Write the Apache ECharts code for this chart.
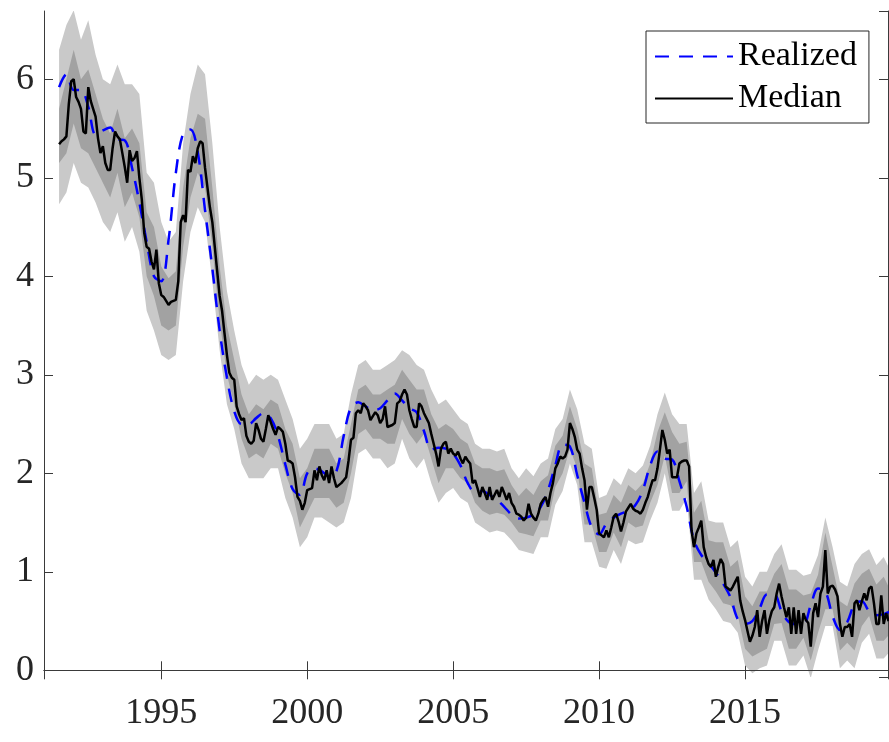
<!DOCTYPE html>
<html><head><meta charset="utf-8">
<script src="https://cdn.jsdelivr.net/npm/echarts@6/dist/echarts.min.js"></script>
<style>html,body{margin:0;padding:0;background:#fff}#c{width:889px;height:742px}</style>
</head><body><div id="c"></div>
<script>
// Monthly median, starting July 1991 (one row per year)
const medianStart = 1991.5;
const medianValues = [
  5.34, 5.37, 5.39, 5.42, 5.75, 5.98,
  6.00, 5.82, 5.77, 5.70, 5.47, 5.45, 5.92, 5.78, 5.70, 5.62, 5.40, 5.25,
  5.32, 5.15, 5.08, 5.08, 5.30, 5.47, 5.42, 5.39, 5.25, 5.11, 4.95, 5.28,
  5.17, 5.20, 5.27, 5.00, 4.78, 4.44, 4.30, 4.28, 4.15, 4.07, 4.27, 3.93,
  3.81, 3.79, 3.75, 3.71, 3.74, 3.75, 3.76, 3.95, 4.55, 4.62, 4.55, 5.08,
  5.06, 5.22, 5.15, 5.30, 5.37, 5.35, 5.10, 4.90, 4.70, 4.55, 4.30, 4.05,
  3.80, 3.65, 3.42, 3.20, 3.02, 2.97, 2.95, 2.68, 2.60, 2.54, 2.56, 2.38,
  2.32, 2.30, 2.33, 2.51, 2.44, 2.35, 2.32, 2.45, 2.59, 2.52, 2.45, 2.39,
  2.47, 2.45, 2.42, 2.30, 2.13, 2.12, 2.10, 1.96, 1.76, 1.72, 1.63, 1.70,
  1.83, 1.84, 1.85, 2.03, 1.93, 2.07, 1.98, 1.93, 2.03, 1.90, 2.07, 1.95,
  1.86, 1.88, 1.90, 1.93, 1.96, 2.13, 2.34, 2.36, 2.61, 2.64, 2.61, 2.71,
  2.68, 2.64, 2.54, 2.58, 2.62, 2.59, 2.51, 2.55, 2.68, 2.47, 2.48, 2.49,
  2.51, 2.71, 2.73, 2.80, 2.85, 2.80, 2.64, 2.55, 2.47, 2.47, 2.71, 2.68,
  2.61, 2.56, 2.51, 2.40, 2.30, 2.20, 2.07, 2.25, 2.30, 2.32, 2.20, 2.25,
  2.20, 2.18, 2.22, 2.15, 2.10, 2.17, 2.13, 2.10, 1.90, 1.93, 1.85, 1.76,
  1.86, 1.80, 1.73, 1.86, 1.73, 1.78, 1.83, 1.76, 1.86, 1.80, 1.73, 1.80,
  1.70, 1.66, 1.59, 1.58, 1.56, 1.52, 1.55, 1.69, 1.59, 1.55, 1.52, 1.59,
  1.69, 1.73, 1.76, 1.66, 1.80, 1.90, 2.05, 2.10, 2.17, 2.15, 2.17, 2.24,
  2.51, 2.45, 2.37, 2.24, 2.20, 2.05, 1.93, 1.63, 1.86, 1.86, 1.75, 1.63,
  1.39, 1.37, 1.35, 1.42, 1.35, 1.45, 1.56, 1.59, 1.51, 1.41, 1.50, 1.61,
  1.65, 1.69, 1.64, 1.62, 1.61, 1.59, 1.63, 1.70, 1.76, 1.85, 1.93, 1.93,
  2.05, 2.24, 2.44, 2.34, 2.20, 2.24, 1.96, 1.96, 1.96, 2.10, 2.12, 2.13,
  2.13, 2.07, 1.42, 1.25, 1.39, 1.45, 1.52, 1.25, 1.15, 1.08, 1.05, 1.12,
  0.95, 1.05, 1.13, 1.08, 0.85, 0.83, 0.81, 0.85, 0.90, 0.95, 0.71, 0.60,
  0.51, 0.40, 0.29, 0.35, 0.44, 0.61, 0.34, 0.50, 0.61, 0.37, 0.51, 0.60,
  0.64, 0.78, 0.88, 0.75, 0.64, 0.54, 0.64, 0.37, 0.64, 0.37, 0.61, 0.37,
  0.58, 0.51, 0.48, 0.24, 0.58, 0.68, 0.54, 0.78, 0.85, 1.22, 0.78, 0.85,
  0.86, 0.82, 0.75, 0.47, 0.34, 0.44, 0.44, 0.47, 0.34, 0.68, 0.71, 0.61,
  0.70, 0.78, 0.71, 0.83, 0.85, 0.68, 0.47, 0.47, 0.76, 0.47, 0.58, 0.50
];

// Quarterly series, starting 1991.5 (Q3 1991)
const quarterStart = 1991.5;
const realizedValues = [
  5.92, 6.05,
  5.89, 5.89, 5.72, 5.44,  5.48, 5.51, 5.39, 5.38,  5.10, 4.75, 4.35, 4.00,
  3.95, 4.37, 5.05, 5.45,  5.49, 5.26, 4.67, 4.08,  3.45, 2.97, 2.63, 2.50,
  2.50, 2.56, 2.61, 2.56,  2.38, 2.09, 1.84, 1.78,  2.00, 2.05, 2.02, 1.97,
  2.02, 2.38, 2.67, 2.72,  2.68, 2.64, 2.66, 2.74,  2.81, 2.74, 2.66, 2.62,
  2.43, 2.24, 2.26, 2.25,  2.20, 2.08, 1.90, 1.81,  1.82, 1.78, 1.73, 1.66,
  1.58, 1.54, 1.55, 1.58,  1.66, 1.83, 2.08, 2.29,  2.27, 1.98, 1.70, 1.45,
  1.38, 1.49, 1.55, 1.59,  1.62, 1.68, 1.83, 2.08,  2.22, 2.15, 2.14, 1.92,
  1.66, 1.32, 1.17, 1.09,  0.99, 0.88, 0.74, 0.52,  0.47, 0.50, 0.63, 0.77,
  0.77, 0.60, 0.49, 0.47,  0.47, 0.66, 0.83, 0.80,  0.55, 0.41, 0.49, 0.67,
  0.70, 0.60, 0.56, 0.57,  0.60
];
const outerLo = [
  4.73, 4.85,
  5.15, 4.95, 4.90, 4.75,  4.55, 4.45, 4.65, 4.35,  4.50, 4.25, 3.65, 3.45,
  3.20, 3.15, 3.20, 3.95,  4.45, 4.70, 4.55, 3.95,  3.25, 2.70, 2.45, 2.10,
  1.95, 1.95, 1.95, 2.05,  2.05, 1.75, 1.55, 1.25,  1.35, 1.55, 1.55, 1.50,
  1.45, 1.50, 1.75, 2.20,  2.25, 2.15, 2.15, 2.05,  2.10, 2.35, 2.15, 2.05,
  2.15, 1.90, 1.70, 1.80,  1.85, 1.75, 1.70, 1.50,  1.45, 1.40, 1.42, 1.40,
  1.32, 1.22, 1.20, 1.18,  1.35, 1.35, 1.68, 1.82,  2.10, 1.88, 1.30, 1.30,
  1.05, 1.03, 1.22, 1.08,  1.32, 1.28, 1.30, 1.52,  1.70, 2.00, 1.62, 1.62,
  1.75, 0.92, 0.92, 0.72,  0.62, 0.50, 0.48, 0.38,  0.05, -0.03, 0.02, 0.05,
  0.30, 0.30, 0.05, 0.05,  0.15, -0.08, 0.20, 0.45,  0.45, 0.02, 0.10, 0.02,
  0.28, 0.37, 0.12, 0.12,  0.20
];
const innerLo = [
  5.15, 5.25,
  5.55, 5.30, 5.25, 5.10,  4.95, 4.80, 5.05, 4.70,  4.85, 4.60, 4.00, 3.80,
  3.50, 3.45, 3.50, 4.30,  4.80, 5.05, 4.90, 4.30,  3.55, 3.00, 2.70, 2.35,
  2.15, 2.20, 2.15, 2.30,  2.25, 2.00, 1.80, 1.45,  1.60, 1.75, 1.75, 1.75,
  1.65, 1.70, 2.00, 2.40,  2.45, 2.35, 2.35, 2.30,  2.30, 2.55, 2.40, 2.30,
  2.40, 2.15, 1.90, 2.05,  2.05, 1.95, 1.90, 1.70,  1.62, 1.58, 1.60, 1.58,
  1.50, 1.40, 1.38, 1.36,  1.52, 1.52, 1.86, 2.00,  2.25, 2.05, 1.48, 1.48,
  1.20, 1.20, 1.40, 1.25,  1.50, 1.45, 1.47, 1.70,  1.88, 2.18, 1.80, 1.80,
  1.92, 1.10, 1.10, 0.90,  0.80, 0.68, 0.66, 0.56,  0.22, 0.14, 0.18, 0.22,
  0.47, 0.48, 0.22, 0.22,  0.33, 0.10, 0.38, 0.62,  0.62, 0.20, 0.28, 0.20,
  0.45, 0.55, 0.30, 0.30,  0.38
];
const innerHi = [
  5.70, 6.00,
  6.30, 6.00, 6.10, 5.85,  5.60, 5.45, 5.70, 5.40,  5.50, 5.35, 4.65, 4.50,
  4.10, 3.98, 4.05, 4.90,  5.40, 5.65, 5.60, 4.90,  4.10, 3.50, 3.15, 2.80,
  2.60, 2.70, 2.65, 2.75,  2.70, 2.45, 2.30, 1.95,  2.05, 2.25, 2.25, 2.25,
  2.10, 2.15, 2.50, 2.85,  2.90, 2.80, 2.80, 2.85,  2.90, 3.05, 2.95, 2.85,
  2.85, 2.60, 2.45, 2.50,  2.45, 2.35, 2.30, 2.10,  2.05, 2.05, 2.02, 2.04,
  1.88, 1.77, 1.85, 1.78,  1.92, 1.98, 2.28, 2.38,  2.68, 2.45, 2.10, 2.05,
  1.58, 1.60, 1.78, 1.70,  1.88, 1.82, 1.90, 2.10,  2.42, 2.62, 2.42, 2.30,
  2.32, 1.60, 1.72, 1.32,  1.30, 1.30, 1.05, 1.12,  0.75, 0.65, 0.80, 0.80,
  0.98, 1.08, 0.82, 0.82,  0.76, 0.78, 0.97, 1.40,  1.05, 0.70, 0.65, 0.88,
  0.98, 1.03, 0.87, 0.95,  0.80
];
const outerHi = [
  6.30, 6.55,
  6.70, 6.40, 6.60, 6.25,  6.00, 5.95, 6.15, 5.95,  5.95, 5.85, 5.05, 4.95,
  4.55, 4.35, 4.45, 5.35,  5.85, 6.15, 6.05, 5.35,  4.50, 3.85, 3.45, 3.10,
  2.90, 3.00, 2.95, 3.00,  2.95, 2.75, 2.55, 2.25,  2.35, 2.50, 2.50, 2.50,
  2.35, 2.40, 2.80, 3.10,  3.15, 3.05, 3.05, 3.10,  3.15, 3.25, 3.20, 3.10,
  3.05, 2.85, 2.70, 2.75,  2.65, 2.55, 2.50, 2.30,  2.25, 2.25, 2.22, 2.25,
  2.05, 1.95, 2.05, 1.97,  2.10, 2.15, 2.45, 2.55,  2.85, 2.65, 2.30, 2.25,
  1.75, 1.78, 1.95, 1.88,  2.05, 2.00, 2.08, 2.28,  2.60, 2.82, 2.60, 2.50,
  2.50, 1.80, 1.92, 1.52,  1.50, 1.50, 1.25, 1.32,  0.95, 0.85, 1.00, 1.00,
  1.18, 1.28, 1.02, 1.02,  0.96, 0.98, 1.17, 1.55,  1.25, 0.90, 0.85, 1.08,
  1.18, 1.23, 1.07, 1.15,  1.00
];

const xTickYears = [1995, 2000, 2005, 2010, 2015];
const yTicks = [0, 1, 2, 3, 4, 5, 6];

const medianData = medianValues.map((v, i) => [medianStart + i / 12, v]);
const qx = i => quarterStart + i * 0.25;
const realizedData = realizedValues.map((v, i) => [qx(i), v]);

const AX = '#3a3a3a';
const FONT = "'Liberation Serif', 'DejaVu Serif', serif";
const X_MIN = 1990.983, X_MAX = 2019.897, Y_MIN = -0.068, Y_MAX = 6.693;

function bandSeries(name, lo, hi, color) {
  return {
    type: 'custom', name: name, silent: true, clip: true,
    data: lo.map((v, i) => [qx(i), v, hi[i]]),
    encode: {x: 0, y: [1, 2]},
    renderItem: function (params, api) {
      if (params.dataIndex !== 0) return null;
      const pts = [];
      for (let i = 0; i < hi.length; i++) pts.push(api.coord([qx(i), hi[i]]));
      for (let i = lo.length - 1; i >= 0; i--) pts.push(api.coord([qx(i), lo[i]]));
      return {type: 'polygon', shape: {points: pts}, style: {fill: color, stroke: null}};
    }
  };
}

const chart = echarts.init(document.getElementById('c'), null, {renderer: 'canvas'});
chart.setOption({
  animation: false,
  backgroundColor: '#fff',
  grid: {left: 44, right: 1, top: 11, bottom: 65, containLabel: false},
  legend: {
    data: ['Realized', 'Median'], orient: 'vertical', left: 646, top: 31,
    padding: [7, 12, 6, 8], itemWidth: 78, itemHeight: 14, itemGap: 5,
    backgroundColor: '#fff', borderColor: '#262626', borderWidth: 1, borderRadius: 0,
    itemStyle: {opacity: 0},
    textStyle: {fontFamily: FONT, fontSize: 34, lineHeight: 37, color: '#000'},
    selectedMode: false
  },
  xAxis: [
    {type: 'value', min: X_MIN, max: X_MAX, minInterval: 5, maxInterval: 5,
      axisLine: {show: true, lineStyle: {color: AX, width: 1}},
      axisTick: {show: true, inside: true, length: 9, lineStyle: {color: AX}},
      axisLabel: {showMinLabel: false, showMaxLabel: false, margin: 19,
        fontFamily: FONT, fontSize: 36, color: '#262626',
        formatter: v => xTickYears.includes(Math.round(v)) ? String(Math.round(v)) : ''},
      splitLine: {show: false}},
    {type: 'value', position: 'top', min: X_MIN, max: X_MAX, minInterval: 5, maxInterval: 5,
      axisLine: {show: true, lineStyle: {color: AX, width: 1}},
      axisTick: {show: true, inside: true, length: 9, lineStyle: {color: AX}},
      axisLabel: {show: false}, splitLine: {show: false}}
  ],
  yAxis: [
    {type: 'value', min: Y_MIN, max: Y_MAX, minInterval: 1, maxInterval: 1,
      axisLine: {show: true, lineStyle: {color: AX, width: 1}},
      axisTick: {show: true, inside: true, length: 9, lineStyle: {color: AX}},
      axisLabel: {showMinLabel: false, showMaxLabel: false, margin: 10,
        fontFamily: FONT, fontSize: 36, color: '#262626',
        formatter: v => yTicks.includes(Math.round(v)) ? String(Math.round(v)) : ''},
      splitLine: {show: false}},
    {type: 'value', position: 'right', min: Y_MIN, max: Y_MAX, minInterval: 1, maxInterval: 1,
      axisLine: {show: true, lineStyle: {color: AX, width: 1}},
      axisTick: {show: true, inside: true, length: 9, lineStyle: {color: AX}},
      axisLabel: {show: false}, splitLine: {show: false}}
  ],
  series: [
    bandSeries('outerBand', outerLo, outerHi, '#c9c9c9'),
    bandSeries('innerBand', innerLo, innerHi, '#a2a2a2'),
    {name: 'Realized', type: 'line', data: realizedData, symbol: 'none', showSymbol: false,
      smooth: 0.35, lineStyle: {color: '#0000ff', width: 2.5, type: [14, 10]},
      itemStyle: {color: '#0000ff'}},
    {name: 'Median', type: 'line', data: medianData, symbol: 'none', showSymbol: false,
      lineStyle: {color: '#000', width: 2.5}, itemStyle: {color: '#000'},
      markLine: {silent: true, symbol: ['none', 'none'], label: {show: false},
        lineStyle: {color: AX, width: 1, type: 'solid'}, data: [{yAxis: 0}]}}
  ]
});
</script>
</body></html>
